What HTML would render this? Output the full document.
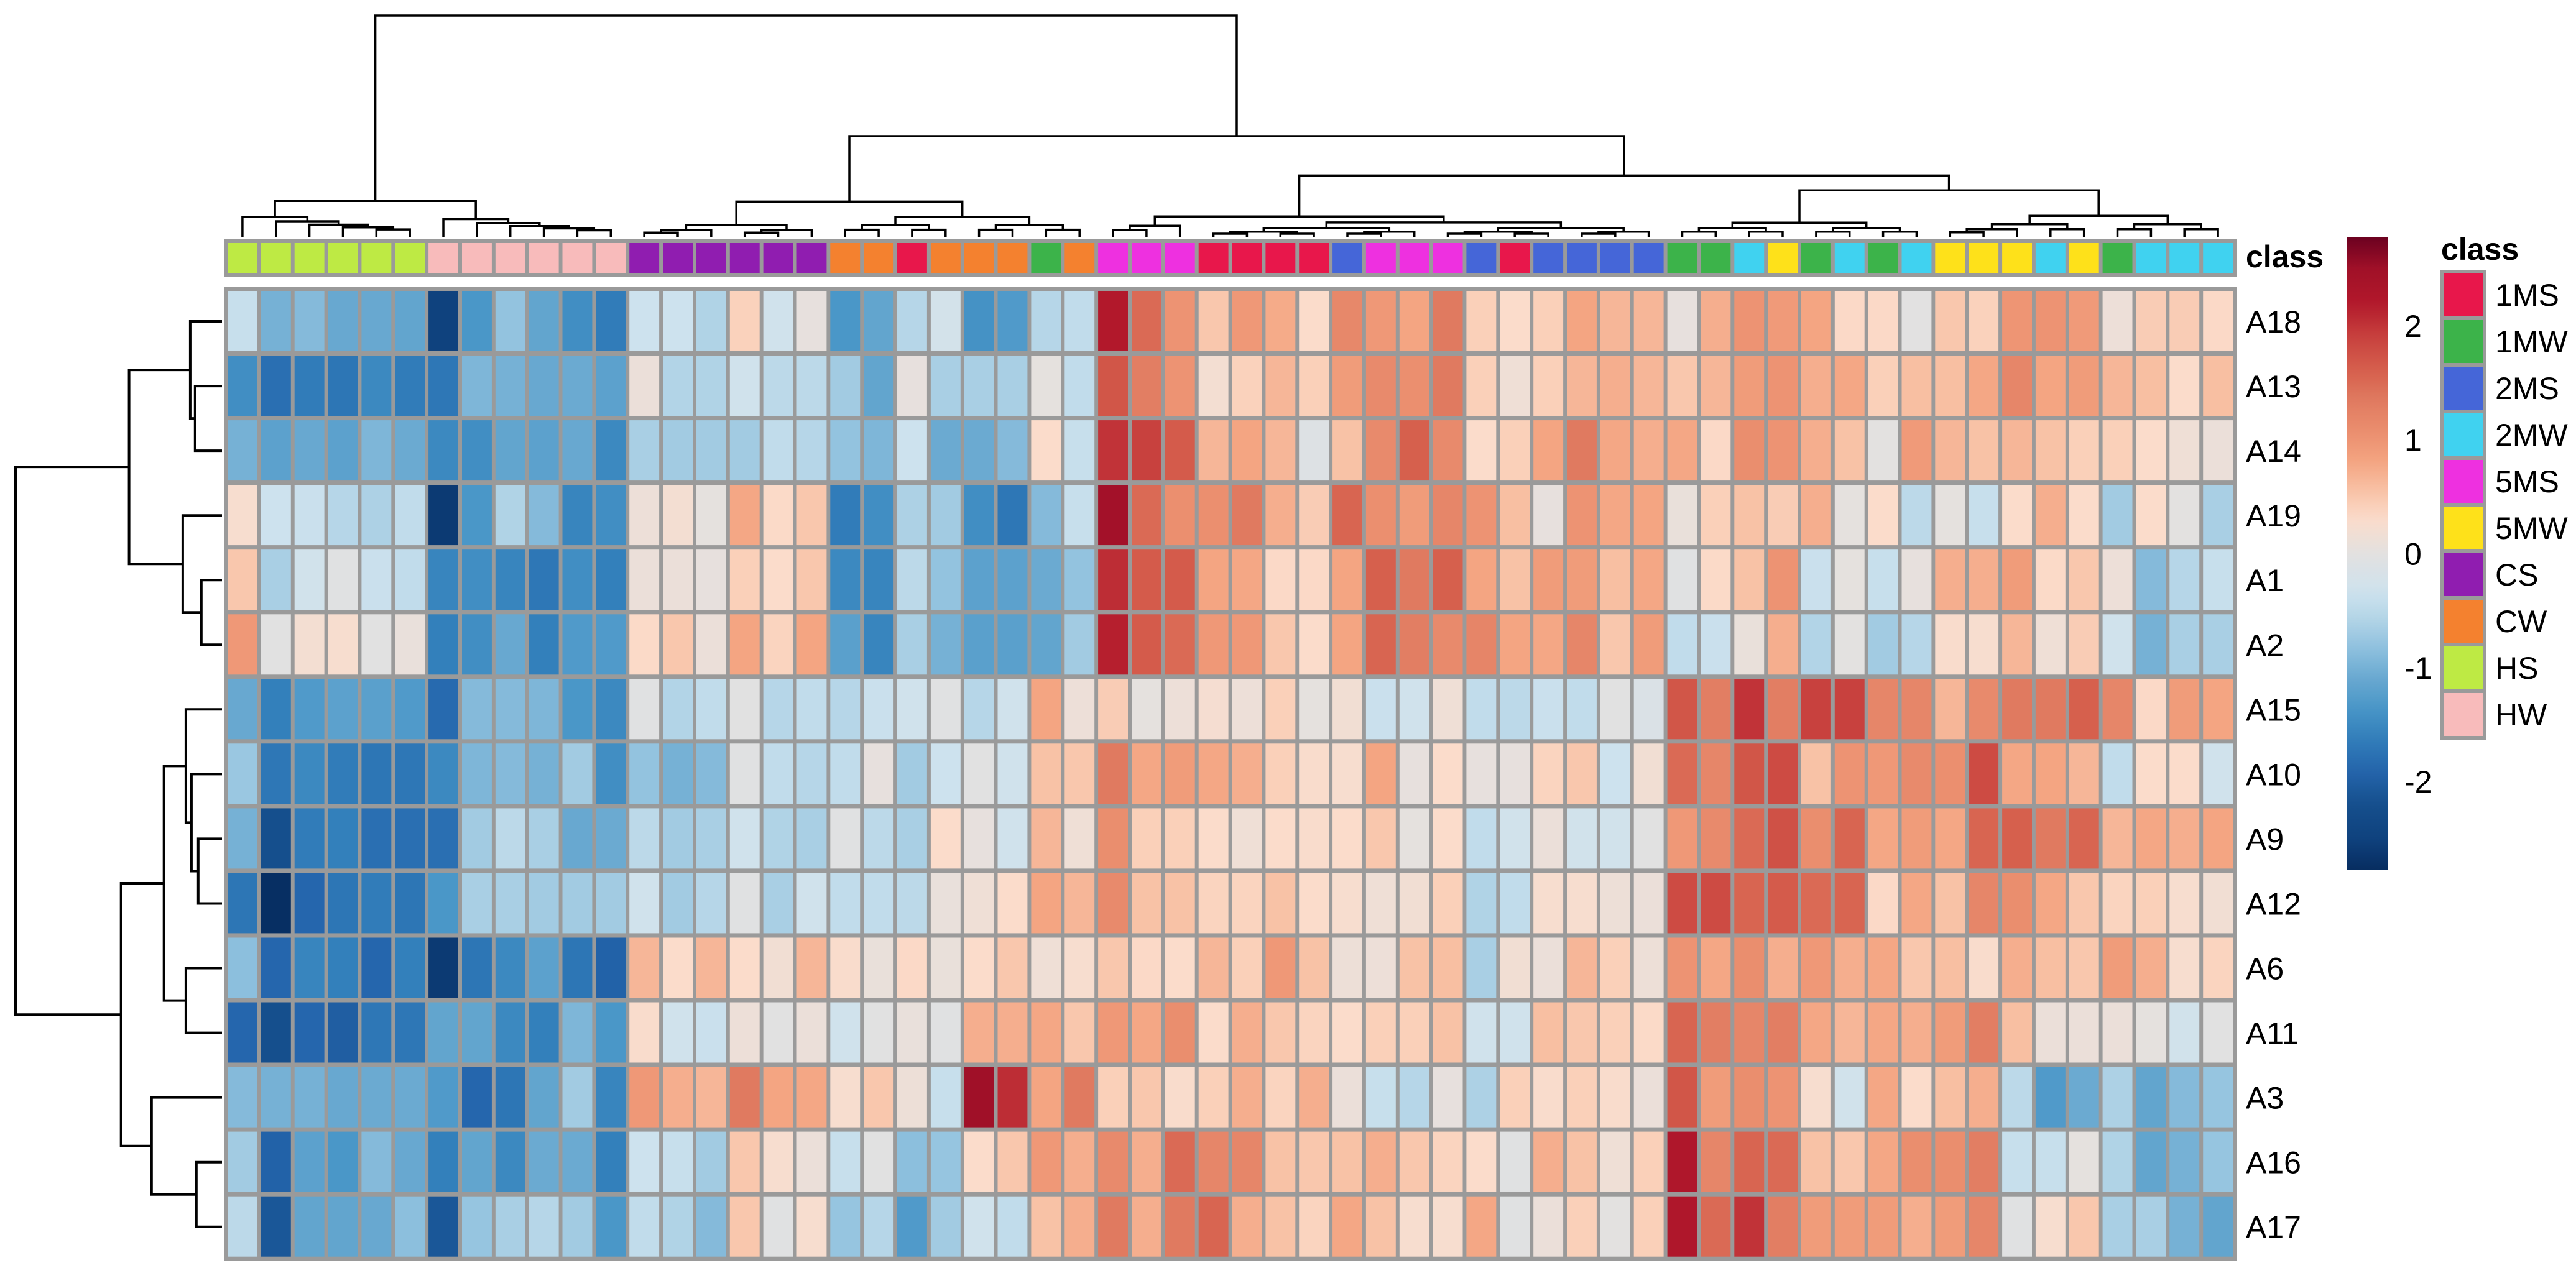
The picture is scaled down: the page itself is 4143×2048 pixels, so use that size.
<!DOCTYPE html>
<html><head><meta charset="utf-8"><style>
html,body{margin:0;padding:0;background:#fff;}
svg{display:block;font-family:"Liberation Sans",sans-serif;}
</style></head><body>
<svg id="chart" width="4143" height="2048" viewBox="0 0 4143 2048" xmlns="http://www.w3.org/2000/svg">
<rect x="0" y="0" width="4143" height="2048" fill="#ffffff"/>
<g id="colDendro"></g>
<g id="rowDendro"></g>
<g id="classBar"></g>
<g id="heat"></g>
<g id="rowLab"></g>
<g id="legend"></g>
<g id="classLegend"></g>
</svg>
<script>
const rowLabels = ["A18","A13","A14","A19","A1","A2","A15","A10","A9","A12","A6","A11","A3","A16","A17"];
const classes = ["HS","HS","HS","HS","HS","HS","HW","HW","HW","HW","HW","HW","CS","CS","CS","CS","CS","CS",
"CW","CW","1MS","CW","CW","CW","1MW","CW","5MS","5MS","5MS","1MS","1MS","1MS","1MS","2MS","5MS","5MS","5MS","2MS","1MS",
"2MS","2MS","2MS","2MS","1MW","1MW","2MW","5MW","1MW","2MW","1MW","2MW","5MW","5MW","5MW","2MW","5MW","1MW","2MW","2MW","2MW"];
const classNames = ["1MS","1MW","2MS","2MW","5MS","5MW","CS","CW","HS","HW"];
const classColors = ["#E8174B","#3CB34A","#4566D8","#40D2F0","#EE30E0","#FEE11A","#901DB0","#F4812F","#BEEA44","#F8BBBB"];
const legendTicks = [2,1,0,-1,-2];

const vA18 = [-0.4,-1.0,-0.9,-1.1,-1.1,-1.15,-2.5,-1.35,-0.8,-1.15,-1.45,-1.65,-0.35,-0.35,-0.6,0.4,-0.3,0.05,-1.35,-1.15,-0.55,-0.25,-1.4,-1.3,-0.55,-0.45,2.2,1.5,1.0,0.5,
0.95,0.75,0.3,1.15,0.95,0.8,1.35,0.42,0.3,0.42,0.8,0.65,0.65,0.05,0.72,1.0,0.92,0.8,0.33,0.33,-0.02,0.5,0.4,0.98,1.0,0.92,0.12,0.45,0.45,0.33];
const vA13 = [-1.45,-1.8,-1.65,-1.72,-1.5,-1.65,-1.7,-0.95,-1.0,-1.1,-1.08,-1.2,0.1,-0.58,-0.6,-0.3,-0.5,-0.5,-0.7,-1.15,0.05,-0.65,-0.65,-0.65,0.03,-0.45,1.7,1.3,1.0,0.2,
0.4,0.65,0.42,0.9,1.12,1.05,1.35,0.42,0.15,0.42,0.65,0.72,0.65,0.5,0.65,0.9,1.0,0.72,0.78,0.42,0.58,0.58,0.78,1.18,0.8,0.9,0.65,0.58,0.3,0.58];
const vA14 = [-1.0,-1.2,-1.1,-1.2,-0.95,-1.08,-1.5,-1.45,-1.15,-1.2,-1.1,-1.5,-0.65,-0.7,-0.7,-0.7,-0.45,-0.55,-0.8,-0.95,-0.35,-1.08,-1.08,-0.9,0.3,-0.4,2.0,1.9,1.65,0.65,
0.8,0.65,-0.1,0.55,1.12,1.6,1.12,0.3,0.42,0.8,1.35,0.78,0.72,0.78,0.33,1.07,1.0,0.72,0.55,0.0,0.92,0.65,0.55,0.65,0.55,0.42,0.42,0.3,0.15,0.1];
const vA19 = [0.25,-0.35,-0.38,-0.55,-0.62,-0.45,-2.6,-1.35,-0.6,-0.9,-1.55,-1.45,0.12,0.2,0.03,0.78,0.32,0.5,-1.65,-1.45,-0.62,-0.7,-1.45,-1.7,-0.9,-0.4,2.45,1.5,1.05,1.05,
1.35,0.72,0.45,1.55,1.05,0.9,1.18,1.0,0.58,0.05,1.0,0.78,0.8,0.08,0.42,0.55,0.45,0.72,0.03,0.3,-0.5,0.03,-0.4,0.3,0.72,0.3,-0.7,0.3,0.0,-0.65];
const vA1 = [0.5,-0.65,-0.28,-0.05,-0.38,-0.45,-1.55,-1.45,-1.55,-1.7,-1.45,-1.6,0.1,0.1,0.05,0.42,0.3,0.5,-1.5,-1.55,-0.5,-0.8,-1.2,-1.2,-1.08,-0.8,2.05,1.65,1.65,0.8,
0.78,0.33,0.33,0.8,1.6,1.35,1.6,0.8,0.55,0.9,0.9,0.58,0.78,-0.05,0.32,0.55,1.0,-0.38,0.03,-0.4,0.05,0.72,0.72,0.9,0.32,0.5,0.12,-0.9,-0.55,-0.4];
const vA2 = [0.95,-0.03,0.2,0.25,-0.03,0.07,-1.6,-1.45,-1.1,-1.6,-1.3,-1.3,0.32,0.5,0.1,0.8,0.38,0.8,-1.22,-1.55,-0.65,-1.0,-1.22,-1.22,-1.15,-0.7,2.15,1.65,1.5,0.95,
0.95,0.5,0.3,0.8,1.55,1.3,1.12,1.2,0.8,0.78,1.18,0.5,0.9,-0.45,-0.38,0.08,0.72,-0.58,0.0,-0.7,-0.55,0.28,0.25,0.65,0.15,0.45,-0.3,-1.0,-0.65,-0.65];
const vA15 = [-1.1,-1.6,-1.3,-1.2,-1.22,-1.3,-1.85,-0.9,-0.9,-0.95,-1.35,-1.5,-0.05,-0.58,-0.45,-0.03,-0.55,-0.45,-0.55,-0.38,-0.3,-0.05,-0.55,-0.3,0.8,0.12,0.45,0.03,0.12,0.22,
0.12,0.42,0.03,0.18,-0.38,-0.3,0.15,-0.45,-0.5,-0.38,-0.45,-0.03,-0.15,1.7,1.3,2.0,1.3,1.9,1.9,1.18,1.18,0.65,1.12,1.35,1.35,1.6,1.18,0.33,0.9,0.8];
const vA10 = [-0.75,-1.7,-1.5,-1.65,-1.72,-1.7,-1.5,-0.95,-0.9,-1.0,-0.7,-1.45,-0.8,-1.0,-0.9,-0.05,-0.45,-0.55,-0.45,0.05,-0.7,-0.35,-0.03,-0.3,0.55,0.5,1.35,0.78,0.9,0.78,
0.72,0.42,0.28,0.25,0.8,0.05,0.3,0.05,0.05,0.38,0.5,-0.35,0.18,1.5,1.18,1.7,1.8,0.55,1.0,0.95,1.12,1.05,1.8,0.78,0.8,0.65,-0.45,0.3,0.3,-0.3];
const vA9 = [-1.0,-2.2,-1.65,-1.6,-1.8,-1.8,-1.8,-0.7,-0.5,-0.65,-1.1,-1.08,-0.5,-0.7,-0.65,-0.3,-0.6,-0.65,-0.05,-0.5,-0.65,0.3,0.05,-0.3,0.65,0.15,1.07,0.42,0.42,0.3,
0.15,0.3,0.28,0.3,0.5,0.03,0.3,-0.45,-0.28,0.1,-0.28,-0.28,-0.03,0.95,1.12,1.5,1.75,1.07,1.55,0.78,0.9,0.78,1.55,1.6,1.35,1.55,0.65,0.78,0.72,0.8];
const vA12 = [-1.72,-2.75,-1.9,-1.72,-1.65,-1.72,-1.35,-0.65,-0.65,-0.7,-0.7,-0.7,-0.3,-0.7,-0.55,-0.05,-0.65,-0.3,-0.45,-0.45,-0.5,0.07,0.15,0.3,0.8,0.65,1.12,0.55,0.55,0.38,
0.38,0.55,0.3,0.25,0.15,0.18,0.42,-0.6,-0.45,0.25,0.25,0.13,0.1,1.8,1.8,1.55,1.65,1.5,1.55,0.33,0.78,0.55,1.18,1.07,0.78,0.5,0.38,0.42,0.25,0.18];
const vA6 = [-0.85,-1.9,-1.55,-1.6,-1.9,-1.6,-2.6,-1.72,-1.5,-1.2,-1.72,-1.95,0.65,0.3,0.65,0.3,0.18,0.65,0.28,0.08,0.33,0.08,0.3,0.5,0.15,0.25,0.5,0.33,0.3,0.65,
0.42,0.95,0.55,0.13,0.12,0.55,0.58,-0.65,0.18,0.1,0.65,0.42,0.13,1.0,0.78,1.07,0.72,0.95,0.72,0.78,0.5,0.58,0.28,0.72,0.58,0.5,0.9,0.72,0.25,0.38];
const vA11 = [-1.9,-2.2,-1.9,-2.0,-1.7,-1.7,-1.15,-1.15,-1.5,-1.6,-0.95,-1.35,0.28,-0.3,-0.38,0.12,-0.03,0.1,-0.3,-0.03,0.07,-0.05,0.72,0.72,0.78,0.5,0.95,0.78,1.07,0.3,
0.72,0.5,0.38,0.3,0.42,0.42,0.55,-0.3,-0.3,0.58,0.5,0.42,0.32,1.55,1.3,1.18,1.3,0.78,0.65,0.78,0.72,0.9,1.3,0.58,0.1,0.1,0.1,0.03,-0.28,-0.03];
const vA3 = [-0.9,-1.0,-1.0,-1.1,-1.08,-1.08,-1.3,-1.9,-1.72,-1.15,-0.7,-1.55,0.95,0.72,0.65,1.35,0.8,0.78,0.25,0.5,0.13,-0.4,2.5,2.05,0.8,1.35,0.42,0.5,0.28,0.42,
0.72,0.38,0.72,0.1,-0.4,-0.55,0.05,-0.62,0.42,0.28,0.42,0.28,0.1,1.7,0.9,1.07,1.0,0.25,-0.28,0.78,0.3,0.58,0.72,-0.5,-1.3,-1.08,-0.62,-1.15,-0.9,-0.78];
const vA16 = [-0.7,-1.95,-1.2,-1.35,-0.9,-1.1,-1.6,-1.15,-1.5,-1.08,-1.08,-1.6,-0.35,-0.4,-0.7,0.5,0.25,0.1,-0.4,-0.03,-0.85,-0.78,0.3,0.5,0.95,0.72,1.12,0.72,1.5,1.18,
1.18,0.55,0.5,0.55,0.72,0.5,0.38,0.3,-0.05,0.72,0.55,0.15,0.42,2.25,1.18,1.55,1.5,0.55,0.5,0.78,1.07,1.07,1.3,-0.4,-0.4,0.03,-0.6,-1.15,-1.0,-0.78];
const vA17 = [-0.5,-2.1,-1.15,-1.15,-1.1,-0.85,-2.1,-0.78,-0.65,-0.55,-0.7,-1.35,-0.45,-0.6,-0.9,0.5,-0.05,0.25,-0.78,-0.55,-1.3,-0.7,-0.3,-0.45,0.55,0.72,1.35,0.72,1.35,1.55,
0.72,0.55,0.38,0.78,0.55,0.25,0.25,0.78,-0.05,0.1,0.42,0.0,0.42,2.25,1.5,2.0,1.3,0.9,0.9,0.9,0.72,0.9,1.18,-0.05,0.25,0.5,-0.65,-0.65,-1.0,-1.15];
const values = [vA18,vA13,vA14,vA19,vA1,vA2,vA15,vA10,vA9,vA12,vA6,vA11,vA3,vA16,vA17];

const scaleVals = [-2.8,-2.5,-2.2,-1.9,-1.6,-1.35,-1.1,-0.85,-0.6,-0.35,0,0.3,0.55,0.8,1.05,1.35,1.6,1.9,2.2,2.5,2.8];
const scaleCols = ["#062b5e","#0f427e","#154f8d","#2566ad","#3380bb","#4a97c8","#68a8d0","#8cbfdd","#b0d3e6","#cde2ee","#e3e1e0","#fbdccb","#f8c2a6","#f4a582","#eb8f6f","#e07a60","#d6604d","#c8413e","#b2182b","#a01028","#67001f"];

const NS = "http://www.w3.org/2000/svg";
function mk(tag, attrs, parent){const e=document.createElementNS(NS,tag);for(const k in attrs)e.setAttribute(k,attrs[k]);parent.appendChild(e);return e;}
function hex(c){return [parseInt(c.slice(1,3),16),parseInt(c.slice(3,5),16),parseInt(c.slice(5,7),16)];}
function colorOf(v){
  if(v<=scaleVals[0]) return scaleCols[0];
  for(let i=0;i<scaleVals.length-1;i++){
    if(v<=scaleVals[i+1]){
      const t=(v-scaleVals[i])/(scaleVals[i+1]-scaleVals[i]);
      const a=hex(scaleCols[i]),b=hex(scaleCols[i+1]);
      return "rgb("+a.map((x,k)=>Math.round(x+(b[k]-x)*t)).join(",")+")";
    }
  }
  return scaleCols[scaleCols.length-1];
}

const X0=363, CW=53.85, Y0=465, RH=104.05, NC=classes.length, NR=rowLabels.length;
const xOf = j => X0 + j*CW;
const yOf = i => Y0 + i*RH;

const heat=document.getElementById('heat');
const hbg=mk('rect',{x:X0-3,y:Y0-4,width:NC*CW+6,height:NR*RH+7,fill:"#9a9a9a"},heat);


values.forEach((row,i)=>{
  row.forEach((v,j)=>{
    const r=mk('rect',{x:(xOf(j)+3).toFixed(1),y:(yOf(i)+3).toFixed(1),width:(CW-6).toFixed(1),height:(RH-7).toFixed(1),fill:colorOf(v)},heat);
    
    
  });
});

const cb=document.getElementById('classBar');
const cbg=mk('rect',{x:X0-3,y:385,width:NC*CW+6,height:60,fill:"#9a9a9a"},cb);


classes.forEach((c,j)=>{
  const r=mk('rect',{x:(xOf(j)+3).toFixed(1),y:391,width:(CW-6).toFixed(1),height:48,fill:classColors[classNames.indexOf(c)]},cb);
  
  
});
const ct=mk('text',{x:3612,y:430,"font-size":50,"font-weight":"bold",fill:"#000"},cb);
ct.textContent="class";



const rl=document.getElementById('rowLab');
rowLabels.forEach((l,i)=>{
  const t=mk('text',{x:3612,y:(yOf(i)+RH/2+18).toFixed(1),"font-size":50,fill:"#000"},rl);
  t.textContent=l;
  
  
});

function auto(a,b,h){ if(a===b) return a; const m=Math.floor((a+b)/2); return {h:h,l:auto(a,m,h*0.6),r:auto(m+1,b,h*0.6)}; }
function chain(a,b,h){ if(a===b) return a; return {h:h,l:a,r:chain(a+1,b,h*0.78)}; }
const colTree = {h:100,
  l:{h:16.2,l:chain(0,5,9),r:chain(6,11,8)},
  r:{h:45.5,
     l:{h:15.9,l:auto(12,17,5.3),r:auto(18,25,8.9)},
     r:{h:27.7,
        l:{h:9.2,l:auto(26,28,5),r:auto(29,42,6.5)},
        r:{h:21,l:auto(43,50,6.4),r:auto(51,59,9.5)}}}};
const rowTree = {h:100,
  l:{h:45,l:{h:15.4,l:0,r:{h:13,l:1,r:2}},r:{h:19,l:3,r:{h:10,l:4,r:5}}},
  r:{h:48.9,
     l:{h:28.1,l:{h:17.5,l:6,r:{h:14.8,l:7,r:{h:11.5,l:8,r:9}}},r:{h:17.5,l:10,r:11}},
     r:{h:34.1,l:12,r:{h:12.4,l:13,r:14}}}};

const colD=document.getElementById('colDendro');
const colLeafY=381, colSpan=356;
const cy = h => colLeafY - h/100*colSpan;
function drawCol(n){
  if(typeof n==="number") return {p:xOf(n)+CW/2,h:0};
  const a=drawCol(n.l), b=drawCol(n.r);
  const p=mk('path',{d:`M${a.p.toFixed(1)},${cy(a.h).toFixed(1)}V${cy(n.h).toFixed(1)}H${b.p.toFixed(1)}V${cy(b.h).toFixed(1)}`,fill:"none",stroke:"#000","stroke-width":3.5},colD);
  
  
  return {p:(a.p+b.p)/2,h:n.h};
}
drawCol(colTree);

const rowD=document.getElementById('rowDendro');
const rowLeafX=357, rowSpan=332;
const rx = h => rowLeafX - h/100*rowSpan;
function drawRow(n){
  if(typeof n==="number") return {p:yOf(n)+RH/2,h:0};
  const a=drawRow(n.l), b=drawRow(n.r);
  const p=mk('path',{d:`M${rx(a.h).toFixed(1)},${a.p.toFixed(1)}H${rx(n.h).toFixed(1)}V${b.p.toFixed(1)}H${rx(b.h).toFixed(1)}`,fill:"none",stroke:"#000","stroke-width":4},rowD);
  
  
  return {p:(a.p+b.p)/2,h:n.h};
}
drawRow(rowTree);

const lg=document.getElementById('legend');
const LX=3774, LW=67, LT=381, LB=1400, vTop=2.78, vBot=-2.78;
const ly = v => LT + (vTop - v)/(vTop - vBot)*(LB-LT);
const defs=mk('defs',{},lg);
const grad=mk('linearGradient',{id:"lgGrad",x1:0,y1:0,x2:0,y2:1},defs);
for(let k=0;k<=40;k++){
  const v=vTop-(vTop-vBot)*k/40;
  mk('stop',{offset:(k/40).toFixed(3),"stop-color":colorOf(v)},grad);
}
const lbar=mk('rect',{x:LX,y:LT,width:LW,height:LB-LT,fill:"url(#lgGrad)"},lg);


legendTicks.forEach(t=>{
  const tx=mk('text',{x:3867,y:(ly(t)+18).toFixed(1),"font-size":50,fill:"#000"},lg);
  tx.textContent=(t<0?"-":"")+Math.abs(t);
  
  
});

const cl=document.getElementById('classLegend');
const clt=mk('text',{x:3926,y:418,"font-size":50,"font-weight":"bold",fill:"#000"},cl);
clt.textContent="class";


const clbg=mk('rect',{x:3925,y:435,width:73,height:classNames.length*75+6,fill:"#9a9a9a"},cl);


classNames.forEach((n,k)=>{
  const r=mk('rect',{x:3930,y:440+k*75,width:63,height:69,fill:classColors[k]},cl);
  
  
  const t=mk('text',{x:4013,y:440+k*75+52,"font-size":50,fill:"#000"},cl);
  t.textContent=n;
  
  
});
</script>
</body></html>
